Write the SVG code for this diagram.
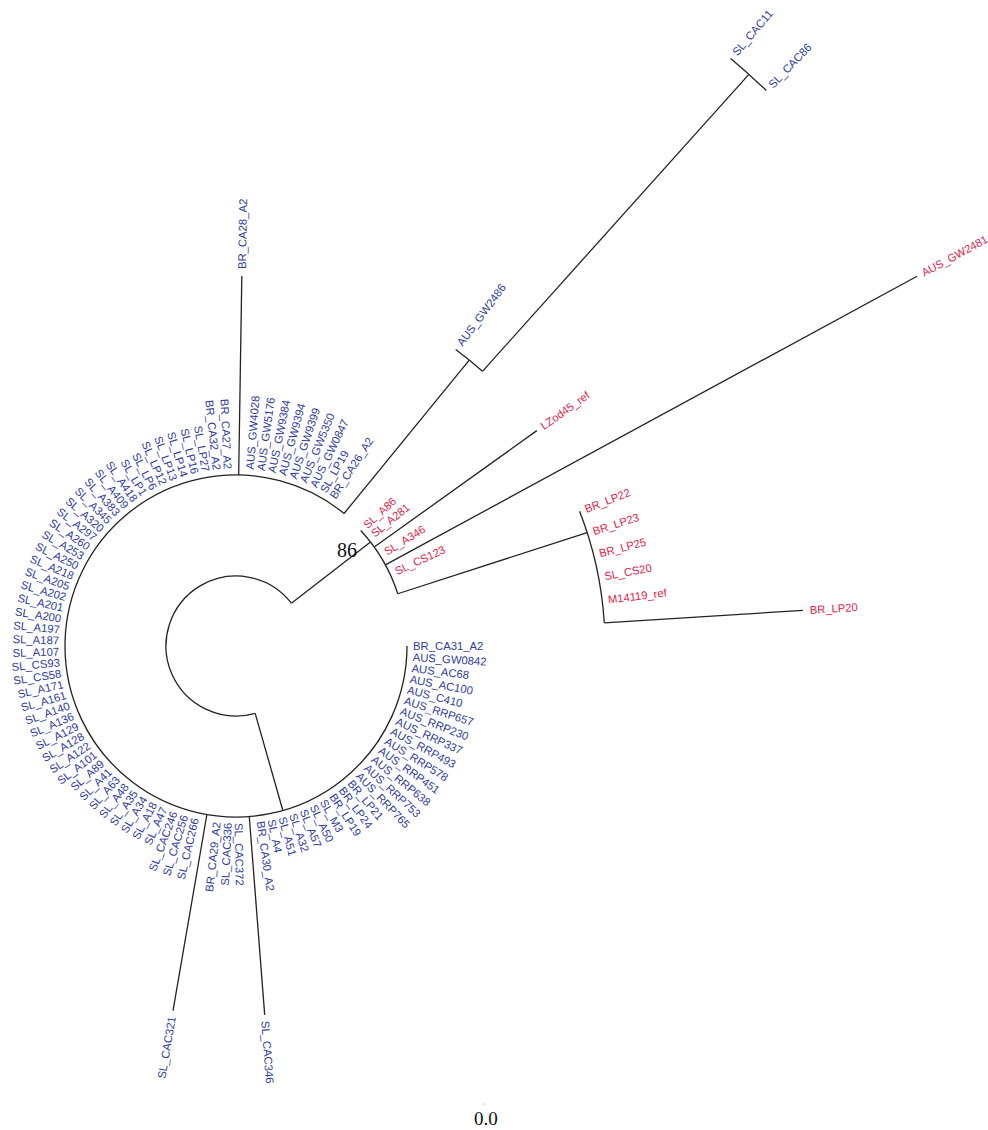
<svg xmlns="http://www.w3.org/2000/svg" width="988" height="1130" viewBox="0 0 988 1130">
<style>
text{font-family:"Liberation Sans",Arial,sans-serif;dominant-baseline:central}
.b{fill:#2f3c9e;font-size:11.3px}
.r{fill:#e01e4b;font-size:11.2px}
.e{text-anchor:end}
.c line,.c path{stroke:#222;stroke-width:1.3;fill:none}
.num{font-family:"Liberation Serif","Times New Roman",serif;fill:#111;dominant-baseline:auto}
</style>
<rect width="988" height="1130" fill="#fff"/>
<g transform="translate(236,646)">
<g id="connectors" class="c">
<path d="M55.41,-42.78 A70 70 0 1 0 19.18,67.32"/>
<path d="M171,0 A171 171 0 1 1 108.07,-132.51"/>
<path d="M124.73,-115.5 A170 170 0 0 1 161.77,-52.26"/>
<path d="M219.7,-296.45 A369 369 0 0 1 246.42,-274.66"/>
<path d="M494.67,-587.44 A768 768 0 0 1 530.3,-555.49"/>
<path d="M343.58,-134.65 A369 369 0 0 1 368.27,-23.17"/>
<line x1="70" x2="170" transform="rotate(-37.7)"/>
<line x1="70" x2="171" transform="rotate(74.1)"/>
<line x1="171" x2="370" transform="rotate(-89.1)"/>
<line x1="171" x2="370" transform="rotate(99.8)"/>
<line x1="171" x2="370" transform="rotate(85.55)"/>
<line x1="171" x2="369" transform="rotate(-50.8)"/>
<line x1="369" x2="768" transform="rotate(-48.1)"/>
<line x1="170" x2="370" transform="rotate(-35.6)"/>
<line x1="170" x2="775" transform="rotate(-28.5)"/>
<line x1="170" x2="369" transform="rotate(-17.9)"/>
<line x1="369" x2="568" transform="rotate(-3.6)"/>
</g>
<g id="n-BR_CA31_A2"><text class="b" transform="rotate(0)" x="177">BR_CA31_A2</text></g>
<g id="n-AUS_GW0842"><text class="b" transform="rotate(3.56)" x="177">AUS_GW0842</text></g>
<g id="n-AUS_AC68"><text class="b" transform="rotate(7.13)" x="177">AUS_AC68</text></g>
<g id="n-AUS_AC100"><text class="b" transform="rotate(10.69)" x="177">AUS_AC100</text></g>
<g id="n-AUS_C410"><text class="b" transform="rotate(14.26)" x="177">AUS_C410</text></g>
<g id="n-AUS_RRP657"><text class="b" transform="rotate(17.82)" x="177">AUS_RRP657</text></g>
<g id="n-AUS_RRP230"><text class="b" transform="rotate(21.39)" x="177">AUS_RRP230</text></g>
<g id="n-AUS_RRP337"><text class="b" transform="rotate(24.95)" x="177">AUS_RRP337</text></g>
<g id="n-AUS_RRP493"><text class="b" transform="rotate(28.52)" x="177">AUS_RRP493</text></g>
<g id="n-AUS_RRP578"><text class="b" transform="rotate(32.08)" x="177">AUS_RRP578</text></g>
<g id="n-AUS_RRP451"><text class="b" transform="rotate(35.64)" x="177">AUS_RRP451</text></g>
<g id="n-AUS_RRP638"><text class="b" transform="rotate(39.21)" x="177">AUS_RRP638</text></g>
<g id="n-AUS_RRP753"><text class="b" transform="rotate(42.77)" x="177">AUS_RRP753</text></g>
<g id="n-AUS_RRP765"><text class="b" transform="rotate(46.34)" x="177">AUS_RRP765</text></g>
<g id="n-BR_LP21"><text class="b" transform="rotate(49.9)" x="177">BR_LP21</text></g>
<g id="n-BR_LP24"><text class="b" transform="rotate(53.47)" x="177">BR_LP24</text></g>
<g id="n-BR_LP19"><text class="b" transform="rotate(57.03)" x="177">BR_LP19</text></g>
<g id="n-SL_M3"><text class="b" transform="rotate(60.59)" x="177">SL_M3</text></g>
<g id="n-SL_A50"><text class="b" transform="rotate(64.16)" x="177">SL_A50</text></g>
<g id="n-SL_A57"><text class="b" transform="rotate(67.72)" x="177">SL_A57</text></g>
<g id="n-SL_A32"><text class="b" transform="rotate(71.29)" x="177">SL_A32</text></g>
<g id="n-SL_A51"><text class="b" transform="rotate(74.85)" x="177">SL_A51</text></g>
<g id="n-SL_A4"><text class="b" transform="rotate(78.42)" x="177">SL_A4</text></g>
<g id="n-BR_CA30_A2"><text class="b" transform="rotate(81.98)" x="177">BR_CA30_A2</text></g>
<g id="n-SL_CAC346"><text class="b" transform="rotate(85.55)" x="376">SL_CAC346</text></g>
<g id="n-SL_CAC372"><text class="b" transform="rotate(89.11)" x="177">SL_CAC372</text></g>
<g id="n-SL_CAC336"><text class="b e" transform="rotate(-87.33)" x="-177">SL_CAC336</text></g>
<g id="n-BR_CA29_A2"><text class="b e" transform="rotate(-83.76)" x="-177">BR_CA29_A2</text></g>
<g id="n-SL_CAC321"><text class="b e" transform="rotate(-80.2)" x="-376">SL_CAC321</text></g>
<g id="n-SL_CAC266"><text class="b e" transform="rotate(-76.63)" x="-177">SL_CAC266</text></g>
<g id="n-SL_CAC256"><text class="b e" transform="rotate(-73.07)" x="-177">SL_CAC256</text></g>
<g id="n-SL_CAC246"><text class="b e" transform="rotate(-69.5)" x="-177">SL_CAC246</text></g>
<g id="n-SL_A47"><text class="b e" transform="rotate(-65.94)" x="-177">SL_A47</text></g>
<g id="n-SL_A18"><text class="b e" transform="rotate(-62.37)" x="-177">SL_A18</text></g>
<g id="n-SL_A34"><text class="b e" transform="rotate(-58.81)" x="-177">SL_A34</text></g>
<g id="n-SL_A35"><text class="b e" transform="rotate(-55.25)" x="-177">SL_A35</text></g>
<g id="n-SL_A48"><text class="b e" transform="rotate(-51.68)" x="-177">SL_A48</text></g>
<g id="n-SL_A63"><text class="b e" transform="rotate(-48.12)" x="-177">SL_A63</text></g>
<g id="n-SL_A41"><text class="b e" transform="rotate(-44.55)" x="-177">SL_A41</text></g>
<g id="n-SL_A89"><text class="b e" transform="rotate(-40.99)" x="-177">SL_A89</text></g>
<g id="n-SL_A101"><text class="b e" transform="rotate(-37.42)" x="-177">SL_A101</text></g>
<g id="n-SL_A122"><text class="b e" transform="rotate(-33.86)" x="-177">SL_A122</text></g>
<g id="n-SL_A128"><text class="b e" transform="rotate(-30.3)" x="-177">SL_A128</text></g>
<g id="n-SL_A129"><text class="b e" transform="rotate(-26.73)" x="-177">SL_A129</text></g>
<g id="n-SL_A136"><text class="b e" transform="rotate(-23.17)" x="-177">SL_A136</text></g>
<g id="n-SL_A140"><text class="b e" transform="rotate(-19.6)" x="-177">SL_A140</text></g>
<g id="n-SL_A161"><text class="b e" transform="rotate(-16.04)" x="-177">SL_A161</text></g>
<g id="n-SL_A171"><text class="b e" transform="rotate(-12.47)" x="-177">SL_A171</text></g>
<g id="n-SL_CS58"><text class="b e" transform="rotate(-8.91)" x="-177">SL_CS58</text></g>
<g id="n-SL_CS93"><text class="b e" transform="rotate(-5.34)" x="-177">SL_CS93</text></g>
<g id="n-SL_A107"><text class="b e" transform="rotate(-1.78)" x="-177">SL_A107</text></g>
<g id="n-SL_A187"><text class="b e" transform="rotate(1.78)" x="-177">SL_A187</text></g>
<g id="n-SL_A197"><text class="b e" transform="rotate(5.35)" x="-177">SL_A197</text></g>
<g id="n-SL_A200"><text class="b e" transform="rotate(8.91)" x="-177">SL_A200</text></g>
<g id="n-SL_A201"><text class="b e" transform="rotate(12.48)" x="-177">SL_A201</text></g>
<g id="n-SL_A202"><text class="b e" transform="rotate(16.04)" x="-177">SL_A202</text></g>
<g id="n-SL_A205"><text class="b e" transform="rotate(19.61)" x="-177">SL_A205</text></g>
<g id="n-SL_A218"><text class="b e" transform="rotate(23.17)" x="-177">SL_A218</text></g>
<g id="n-SL_A250"><text class="b e" transform="rotate(26.74)" x="-177">SL_A250</text></g>
<g id="n-SL_A253"><text class="b e" transform="rotate(30.3)" x="-177">SL_A253</text></g>
<g id="n-SL_A260"><text class="b e" transform="rotate(33.86)" x="-177">SL_A260</text></g>
<g id="n-SL_A297"><text class="b e" transform="rotate(37.43)" x="-177">SL_A297</text></g>
<g id="n-SL_A320"><text class="b e" transform="rotate(40.99)" x="-177">SL_A320</text></g>
<g id="n-SL_A345"><text class="b e" transform="rotate(44.56)" x="-177">SL_A345</text></g>
<g id="n-SL_A383"><text class="b e" transform="rotate(48.12)" x="-177">SL_A383</text></g>
<g id="n-SL_A409"><text class="b e" transform="rotate(51.69)" x="-177">SL_A409</text></g>
<g id="n-SL_A418"><text class="b e" transform="rotate(55.25)" x="-177">SL_A418</text></g>
<g id="n-SL_LP1"><text class="b e" transform="rotate(58.82)" x="-177">SL_LP1</text></g>
<g id="n-SL_LP6"><text class="b e" transform="rotate(62.38)" x="-177">SL_LP6</text></g>
<g id="n-SL_LP12"><text class="b e" transform="rotate(65.94)" x="-177">SL_LP12</text></g>
<g id="n-SL_LP13"><text class="b e" transform="rotate(69.51)" x="-177">SL_LP13</text></g>
<g id="n-SL_LP14"><text class="b e" transform="rotate(73.07)" x="-177">SL_LP14</text></g>
<g id="n-SL_LP16"><text class="b e" transform="rotate(76.64)" x="-177">SL_LP16</text></g>
<g id="n-SL_LP27"><text class="b e" transform="rotate(80.2)" x="-177">SL_LP27</text></g>
<g id="n-BR_CA32_A2"><text class="b e" transform="rotate(83.77)" x="-177">BR_CA32_A2</text></g>
<g id="n-BR_CA27_A2"><text class="b e" transform="rotate(87.33)" x="-177">BR_CA27_A2</text></g>
<g id="n-BR_CA28_A2"><text class="b" transform="rotate(-89.1)" x="377">BR_CA28_A2</text></g>
<g id="n-AUS_GW4028"><text class="b" transform="rotate(-85.54)" x="177">AUS_GW4028</text></g>
<g id="n-AUS_GW5176"><text class="b" transform="rotate(-81.98)" x="177">AUS_GW5176</text></g>
<g id="n-AUS_GW9384"><text class="b" transform="rotate(-78.41)" x="177">AUS_GW9384</text></g>
<g id="n-AUS_GW9394"><text class="b" transform="rotate(-74.85)" x="177">AUS_GW9394</text></g>
<g id="n-AUS_GW9399"><text class="b" transform="rotate(-71.28)" x="177">AUS_GW9399</text></g>
<g id="n-AUS_GW5350"><text class="b" transform="rotate(-67.72)" x="177">AUS_GW5350</text></g>
<g id="n-AUS_GW0847"><text class="b" transform="rotate(-64.15)" x="177">AUS_GW0847</text></g>
<g id="n-SL_LP19"><text class="b" transform="rotate(-60.59)" x="177">SL_LP19</text></g>
<g id="n-BR_CA26_A2"><text class="b" transform="rotate(-57.02)" x="177">BR_CA26_A2</text></g>
<g id="n-AUS_GW2486"><text class="b" transform="rotate(-53.46)" x="375">AUS_GW2486</text></g>
<g id="n-SL_CAC11"><text class="b" transform="rotate(-49.9)" x="774">SL_CAC11</text></g>
<g id="n-SL_CAC86"><text class="b" transform="rotate(-46.33)" x="774">SL_CAC86</text></g>
<g id="n-SL_A86"><text class="r" transform="rotate(-42.8)" x="176">SL_A86</text></g>
<g id="n-SL_A281"><text class="r" transform="rotate(-39.2)" x="176">SL_A281</text></g>
<g id="n-LZod45_ref"><text class="r" transform="rotate(-35.6)" x="376">LZod45_ref</text></g>
<g id="n-SL_A346"><text class="r" transform="rotate(-32.1)" x="176">SL_A346</text></g>
<g id="n-AUS_GW2481"><text class="r" transform="rotate(-28.5)" x="781">AUS_GW2481</text></g>
<g id="n-SL_CS123"><text class="r" transform="rotate(-25)" x="176">SL_CS123</text></g>
<g id="n-BR_LP22"><text class="r" transform="rotate(-21.4)" x="375">BR_LP22</text></g>
<g id="n-BR_LP23"><text class="r" transform="rotate(-17.8)" x="375">BR_LP23</text></g>
<g id="n-BR_LP25"><text class="r" transform="rotate(-14.3)" x="375">BR_LP25</text></g>
<g id="n-SL_CS20"><text class="r" transform="rotate(-10.7)" x="375">SL_CS20</text></g>
<g id="n-M14119_ref"><text class="r" transform="rotate(-7.1)" x="375">M14119_ref</text></g>
<g id="n-BR_LP20"><text class="r" transform="rotate(-3.6)" x="575">BR_LP20</text></g>
</g>
<g id="bootstrap"><text class="num" x="337" y="557" font-size="20">86</text></g>
<g id="scale">
<line x1="484" y1="1104" x2="485" y2="1104" stroke="#888" stroke-width="1"/>
<text class="num" x="474" y="1125" font-size="19">0.0</text>
</g>
</svg>
